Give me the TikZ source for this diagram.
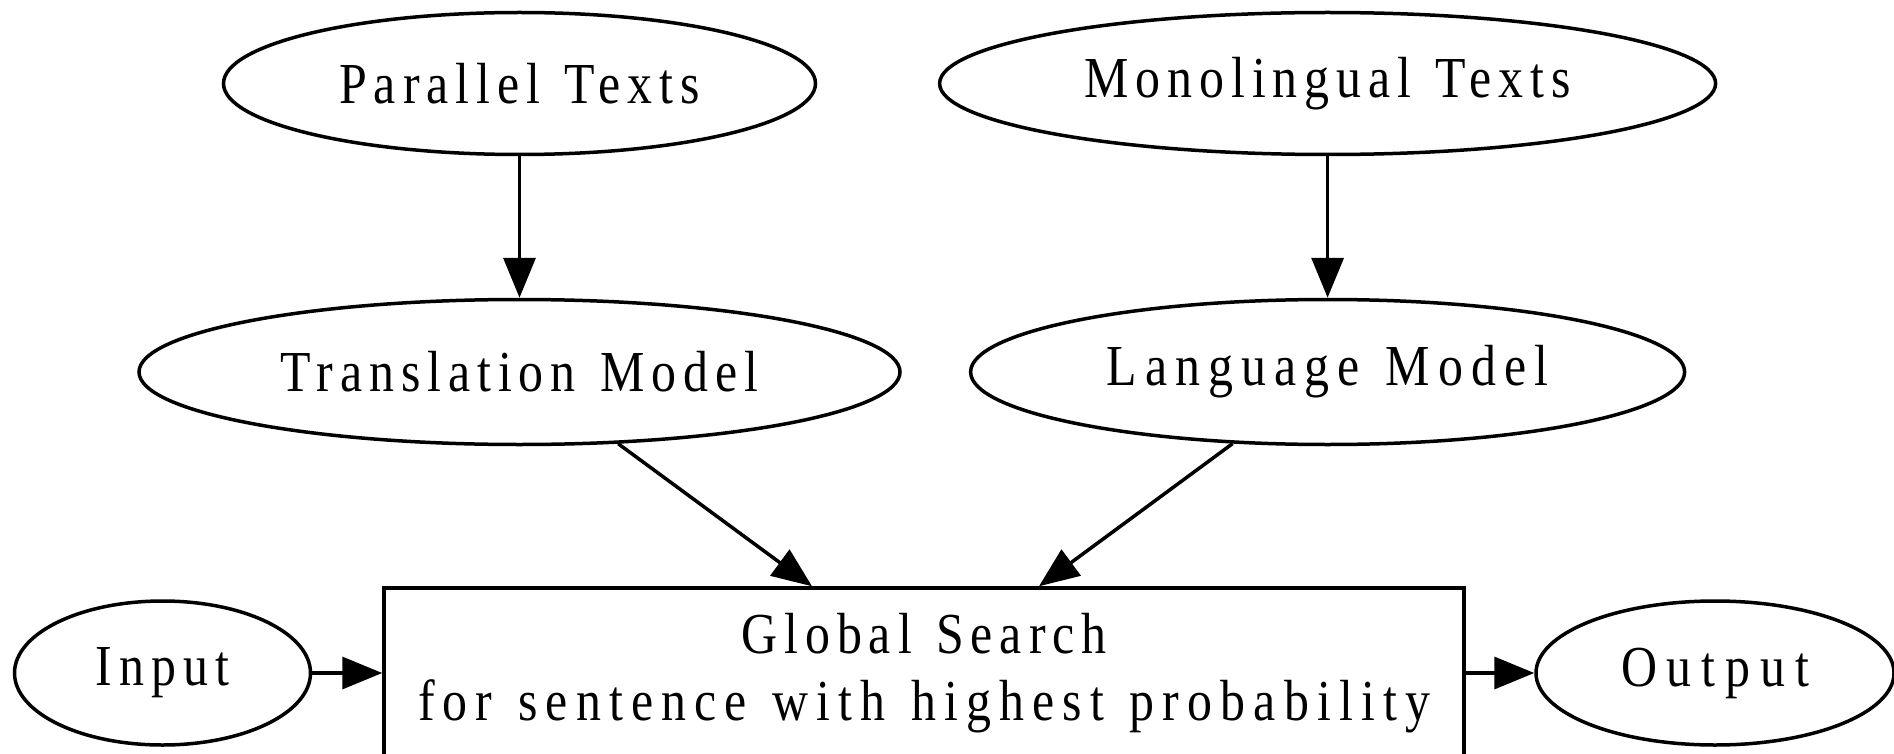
\documentclass[tikz,border=0pt]{standalone}
\usepackage{fontspec}
\setmainfont{Liberation Serif}[LetterSpace=12,FakeStretch=0.86,WordSpace=1.25]
\usetikzlibrary{shapes.geometric,arrows.meta,calc}
\begin{document}
\begin{tikzpicture}[x=1pt,y=-1pt,
  every node/.style={font=\fontsize{58}{67}\selectfont, inner sep=0pt},
  ell/.style={draw, ellipse, line width=3.5pt},
  box/.style={draw, rectangle, line width=3.5pt, align=center},
  wide/.style={font=\fontsize{58}{67}\selectfont\addfontfeature{LetterSpace=#1}},
  arr/.style={line width=3.5pt, -{Triangle[length=40pt,width=32pt]}}]
\useasboundingbox (0,0) rectangle (1894,754);
\node[ell, minimum width=592pt, minimum height=142pt] (pt) at (519.5,83.5) {Parallel Texts};
\node[ell, minimum width=776pt, minimum height=142pt] (mt) at (1327.6,83.5) {Monolingual Texts};
\node[ell, minimum width=761pt, minimum height=145pt] (tm) at (519.5,372) {Translation Model};
\node[ell, wide=14, minimum width=714pt, minimum height=145pt] (lm) at (1327.6,372) {Language Model};
\node[ell, minimum width=296pt, minimum height=144pt] (in) at (162.5,673) {Input};
\node[ell, wide=17, minimum width=358pt, minimum height=144pt] (out) at (1715,673) {Output};
\node[box, minimum width=1080pt, minimum height=170pt] (gs) at (924,673) {Global Search\\{\addfontfeature{LetterSpace=14}for sentence with highest probability}};
\draw[arr] (pt) -- (tm);
\draw[arr] (mt) -- (lm);
\draw[arr] (tm.-36.7) -- ($(gs.north)+(-112,0)$);
\draw[arr] (lm.-143.2) -- ($(gs.north)+(115,0)$);
\draw[arr] (in) -- (gs);
\draw[arr] (gs) -- (out);
\end{tikzpicture}
\end{document}
